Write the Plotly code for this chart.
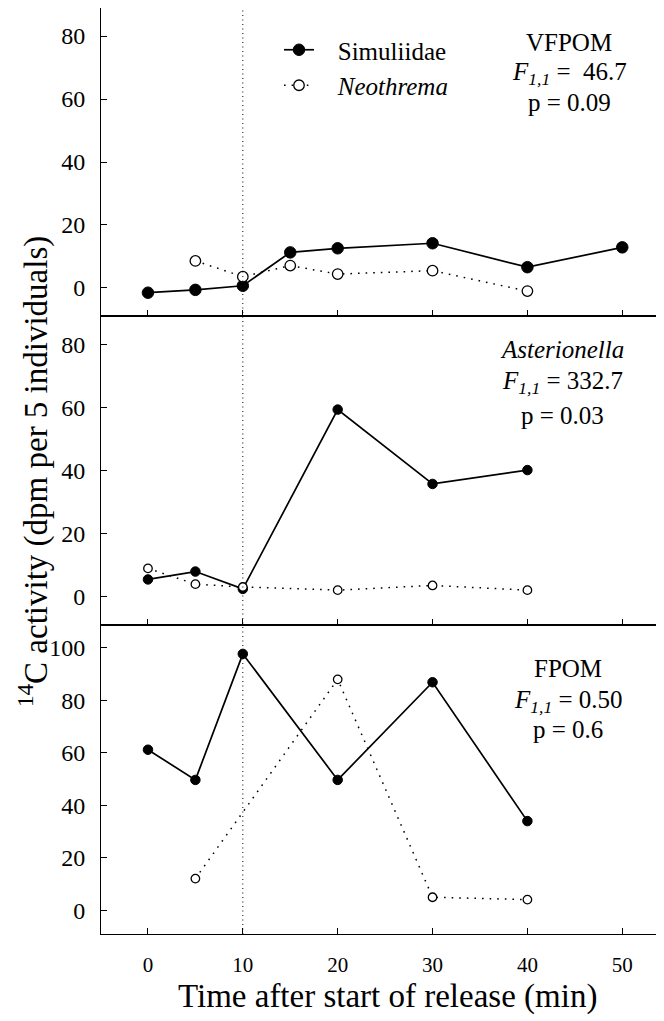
import plotly.graph_objects as go
from plotly.subplots import make_subplots

# ---------------- data ----------------
# Panel 1: VFPOM
vfpom_sim_t = [0, 5, 10, 15, 20, 30, 40, 50]
vfpom_sim_v = [-1.5, -0.6, 0.7, 11.3, 12.6, 14.2, 6.6, 12.9]
vfpom_neo_t = [5, 10, 15, 20, 30, 40]
vfpom_neo_v = [8.6, 3.6, 7.1, 4.4, 5.5, -1.0]

# Panel 2: Asterionella
ast_sim_t = [0, 5, 10, 20, 30, 40]
ast_sim_v = [5.5, 8.0, 2.5, 59.4, 35.8, 40.2]
ast_neo_t = [0, 5, 10, 20, 30, 40]
ast_neo_v = [9.0, 4.0, 3.1, 2.1, 3.6, 2.1]

# Panel 3: FPOM
fpom_sim_t = [0, 5, 10, 20, 30, 40]
fpom_sim_v = [61.2, 49.7, 97.7, 49.7, 86.9, 34.0]
fpom_neo_t = [5, 20, 30, 40]
fpom_neo_v = [12.1, 88.0, 5.0, 4.1]

release_end = 10  # vertical dotted reference line (min)

x_ticks = [0, 10, 20, 30, 40, 50]
y_ticks_12 = [0, 20, 40, 60, 80]
y_ticks_3 = [0, 20, 40, 60, 80, 100]

panel_labels = [
    ["VFPOM", "<i>F</i><sub><i>1,1</i></sub> = &nbsp;46.7", "p = 0.09"],
    ["<i>Asterionella</i>", "<i>F</i><sub><i>1,1</i></sub> = 332.7", "p = 0.03"],
    ["FPOM", "<i>F</i><sub><i>1,1</i></sub> = 0.50", "p = 0.6"],
]

series_names = ["Simuliidae", "<i>Neothrema</i>"]

# ---------------- figure ----------------
FONT = "Liberation Serif"
OFF = 8                      # page offset of the figure (body margin)
W, H = 664 - OFF, 1021 - OFF
ML, MR, MT, MB = 101 - OFF, 0, 0, 87
PW = W - ML - MR
PH = H - MT - MB


def px(xpage):
    return (xpage - OFF - ML) / PW


def py(ypage):
    return (H - MB - (ypage - OFF)) / PH


fig = make_subplots(rows=3, cols=1, shared_xaxes=True, vertical_spacing=0)

panels = [
    (vfpom_sim_t, vfpom_sim_v, vfpom_neo_t, vfpom_neo_v, 11.5, 10.5),
    (ast_sim_t, ast_sim_v, ast_neo_t, ast_neo_v, 9.5, 8.5),
    (fpom_sim_t, fpom_sim_v, fpom_neo_t, fpom_neo_v, 9.5, 8.5),
]

for i, (st, sv, nt, nv, ssz, nsz) in enumerate(panels):
    row = i + 1
    fig.add_trace(go.Scatter(
        x=st, y=sv, mode="lines+markers",
        name="&nbsp;&nbsp;&nbsp;" + series_names[0],
        line=dict(color="black", width=1.7),
        marker=dict(symbol="circle", size=ssz, color="black",
                    line=dict(color="black", width=1)),
        showlegend=(row == 1),
    ), row=row, col=1)
    fig.add_trace(go.Scatter(
        x=nt, y=nv, mode="lines+markers",
        name="&nbsp;&nbsp;&nbsp;" + series_names[1],
        line=dict(color="black", width=1.5, dash="1.6px,6px"),
        marker=dict(symbol="circle", size=nsz, color="white",
                    line=dict(color="black", width=1.3)),
        showlegend=(row == 1),
    ), row=row, col=1)

axis_common = dict(
    showline=True, linecolor="black", linewidth=1,
    ticks="inside", ticklen=6, tickcolor="black", tickwidth=1,
    showgrid=False, zeroline=False, automargin=False,
)

# panel boundaries (page px): 8 / 316 / 624.5 / 934
b1, b2 = 316, 624.5
dom_top = [py(b1), 1.0]
dom_mid = [py(b2), py(b1)]
dom_bot = [0.0, py(b2)]

x_range = [-4.95, 54.4]
for r in (1, 2, 3):
    fig.update_xaxes(
        range=x_range, tickvals=x_ticks, mirror=True,
        showticklabels=(r == 3),
        tickfont=dict(family=FONT, size=21, color="black"),
        ticklabelstandoff=12,
        row=r, col=1, **axis_common)

ytf = dict(family=FONT, size=24, color="black")
fig.update_yaxes(range=[-8.9, 88.9], tickvals=y_ticks_12, domain=dom_top,
                 row=1, col=1, tickfont=ytf, ticklabelstandoff=10, **axis_common)
fig.update_yaxes(range=[-8.8, 89.1], tickvals=y_ticks_12, domain=dom_mid,
                 row=2, col=1, tickfont=ytf, ticklabelstandoff=10, **axis_common)
fig.update_yaxes(range=[-9.0, 108.9], tickvals=y_ticks_3, domain=dom_bot,
                 row=3, col=1, tickfont=ytf, ticklabelstandoff=10, **axis_common)

# vertical dotted line spanning all panels
fig.add_shape(type="line", xref="x3", yref="paper",
              x0=release_end, x1=release_end, y0=0, y1=1,
              line=dict(color="black", width=1, dash="1px,3.5px"))

# panel statistics text (page px centres)
line_centers = [[43, 74, 102], [350, 382, 415], [668, 701, 729]]
centers_x = [569, 562, 568]
for i in range(3):
    for j, txt in enumerate(panel_labels[i]):
        fig.add_annotation(
            text=txt, xref="paper", yref="paper",
            x=px(centers_x[i]), y=py(line_centers[i][j]),
            xanchor="center", yanchor="middle", showarrow=False,
            font=dict(family=FONT, size=25, color="black"))

# axis titles
fig.add_annotation(
    text="<sup>14</sup>C activity (dpm per 5 individuals)",
    xref="paper", yref="paper", x=px(33), y=py(472),
    textangle=-90, xanchor="center", yanchor="middle", showarrow=False,
    font=dict(family=FONT, size=33, color="black"))
fig.add_annotation(
    text="Time after start of release (min)",
    xref="paper", yref="paper", x=px(387.5), y=py(997),
    xanchor="center", yanchor="middle", showarrow=False,
    font=dict(family=FONT, size=33, color="black"))

fig.update_layout(
    width=W, height=H,
    margin=dict(l=ML, r=MR, t=MT, b=MB),
    paper_bgcolor="white", plot_bgcolor="white",
    font=dict(family=FONT, color="black"),
    legend=dict(
        x=px(279), y=py(27),
        xanchor="left", yanchor="top", traceorder="normal",
        bgcolor="rgba(0,0,0,0)", borderwidth=0,
        font=dict(family=FONT, size=25, color="black"),
        tracegroupgap=0,
    ),
)

fig.write_html("out.html")
